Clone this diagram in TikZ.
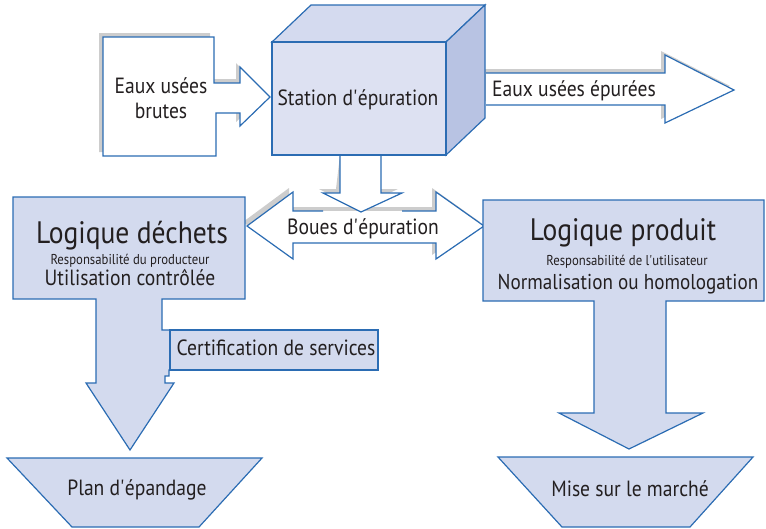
\documentclass[tikz,border=0pt]{standalone}
\usepackage{fontspec}
\setmainfont{PT Sans}[FakeStretch=0.89]
\usepackage{tikz}
\usetikzlibrary{positioning}
\definecolor{bordblue}{HTML}{2B6CB3}
\definecolor{lavfill}{HTML}{D3DAEE}
\definecolor{cubefront}{HTML}{DDE1F2}
\definecolor{cubetop}{HTML}{D4DAEF}
\definecolor{cubeside}{HTML}{B8C3E3}
\definecolor{shadowgrey}{HTML}{CDCDCD}
\definecolor{txtdark}{HTML}{231F20}
\newcommand{\ap}{\textquotesingle}

\begin{document}
\begin{tikzpicture}[x=1pt,y=-1pt]
\tikzstyle{every node}+=[inner sep=0pt,text=txtdark]
\tikzstyle{outline}=[draw=bordblue,line width=1.2pt,line join=miter]
\tikzstyle{shade}=[fill=shadowgrey,shift={(-4,-4)}]
\tikzstyle{txtnorm}=[font=\fontsize{22}{25}\selectfont]
\tikzstyle{txtbig}=[font=\fontsize{31}{34}\selectfont]
\tikzstyle{txtsmall}=[font=\fontsize{14.3}{16}\selectfont]
\useasboundingbox (0,0) rectangle (766,528);
% shadows of the white arrows
\fill [shade] (103,37) -- (214,37) -- (214,83) -- (240,83) -- (240,67) -- (270,97) -- (240,126) -- (240,113) -- (216,113) -- (216,156) -- (103,156) -- cycle;
\fill [shade] (488,73) -- (665,73) -- (665,55) -- (734,90) -- (665,123) -- (665,105) -- (488,105) -- cycle;
\fill [shade] (344,159) -- (340,193) -- (323,193) -- (361,212) -- (402,193) -- (381,193) -- (385,159) -- cycle;
\fill [shade] (247,226) -- (293,192) -- (293,211) -- (436,211) -- (436,192) -- (484,226) -- (436,259) -- (436,243) -- (293,243) -- (293,259) -- cycle;
% raw water
\filldraw [outline,fill=white] (103,37) -- (214,37) -- (214,83) -- (240,83) -- (240,67) -- (270,97) -- (240,126) -- (240,113) -- (216,113) -- (216,156) -- (103,156) -- cycle;
\node [txtnorm,align=center] (brutes) at (161,98) {Eaux usées\\brutes};
% treatment plant
\filldraw [outline,fill=cubetop] (272,42) -- (311,5) -- (485,5) -- (446,42) -- cycle;
\filldraw [outline,fill=cubeside] (446,42) -- (485,5) -- (485,118) -- (446,155) -- cycle;
\filldraw [outline,fill=cubefront] (272,42) rectangle (446,155);
\node [txtnorm,anchor=base] (station) at (358,105) {Station d\ap épuration};
% treated water
\fill [white] (486,73) -- (665,73) -- (665,55) -- (734,90) -- (665,123) -- (665,105) -- (486,105) -- cycle;
\draw [outline] (486,73) -- (665,73) -- (665,55) -- (734,90) -- (665,123) -- (665,105) -- (486,105);
\node [txtnorm,anchor=base] (epurees) at (574,96) {Eaux usées épurées};
% sludge
\fill [white] (247,226) -- (293,192) -- (293,211) -- (436,211) -- (436,192) -- (484,226) -- (436,259) -- (436,243) -- (293,243) -- (293,259) -- cycle;
\fill [white] (340,156) -- (340,193) -- (323,193) -- (361,212) -- (402,193) -- (381,193) -- (381,156) -- cycle;
\draw [outline] (323,211) -- (293,211) -- (293,192) -- (247,226) -- (293,259) -- (293,243) -- (436,243) -- (436,259) -- (484,226) -- (436,192) -- (436,211) -- (402,211);
\draw [outline] (340,155) -- (340,193) -- (323,193) -- (361,212) -- (402,193) -- (381,193) -- (381,155);
\node [txtnorm,anchor=base] (boues) at (363,234) {Boues d\ap épuration};
% waste logic
\filldraw [outline,fill=lavfill] (13,197) -- (245,197) -- (245,299) -- (162,299) -- (162,330) -- (200,330) -- (200,370) -- (169,370) -- (169,376) -- (165,376) -- (165,383) -- (174,383) -- (130,450) -- (86,383) -- (96,383) -- (96,299) -- (13,299) -- cycle;
\node [txtbig,anchor=base] (dechets) at (132,243) {Logique déchets};
\node [txtsmall,anchor=base] (respprod) at (130,264) {Responsabilité du producteur};
\node [txtnorm,anchor=base] (utilisation) at (130,285) {Utilisation contrôlée};
\filldraw [outline,fill=lavfill] (170,330) rectangle (378,370);
\node [txtnorm,anchor=base] (certif) at (276,355) {Certification de services};
% product logic
\filldraw [outline,fill=lavfill] (483,200) -- (764,200) -- (764,301) -- (666,301) -- (666,413) -- (703,413) -- (629,449) -- (559,413) -- (594,413) -- (594,301) -- (483,301) -- cycle;
\node [txtbig,anchor=base] (produit) at (623,240) {Logique produit};
\node [txtsmall,anchor=base] (resputil) at (627,265) {Responsabilité de l\ap utilisateur};
\node [txtnorm,anchor=base,font=\fontsize{21.5}{25}\selectfont] (normal) at (628,289) {Normalisation ou homologation};
% outlets
\filldraw [outline,fill=lavfill] (7,458) -- (262,458) -- (199,527) -- (72,527) -- cycle;
\node [txtnorm,anchor=base] (plan) at (137,495) {Plan d\ap épandage};
\filldraw [outline,fill=lavfill] (498,457) -- (753,457) -- (690,527) -- (562,527) -- cycle;
\node [txtnorm,anchor=base] (marche) at (630,496) {Mise sur le marché};
\end{tikzpicture}
\end{document}
